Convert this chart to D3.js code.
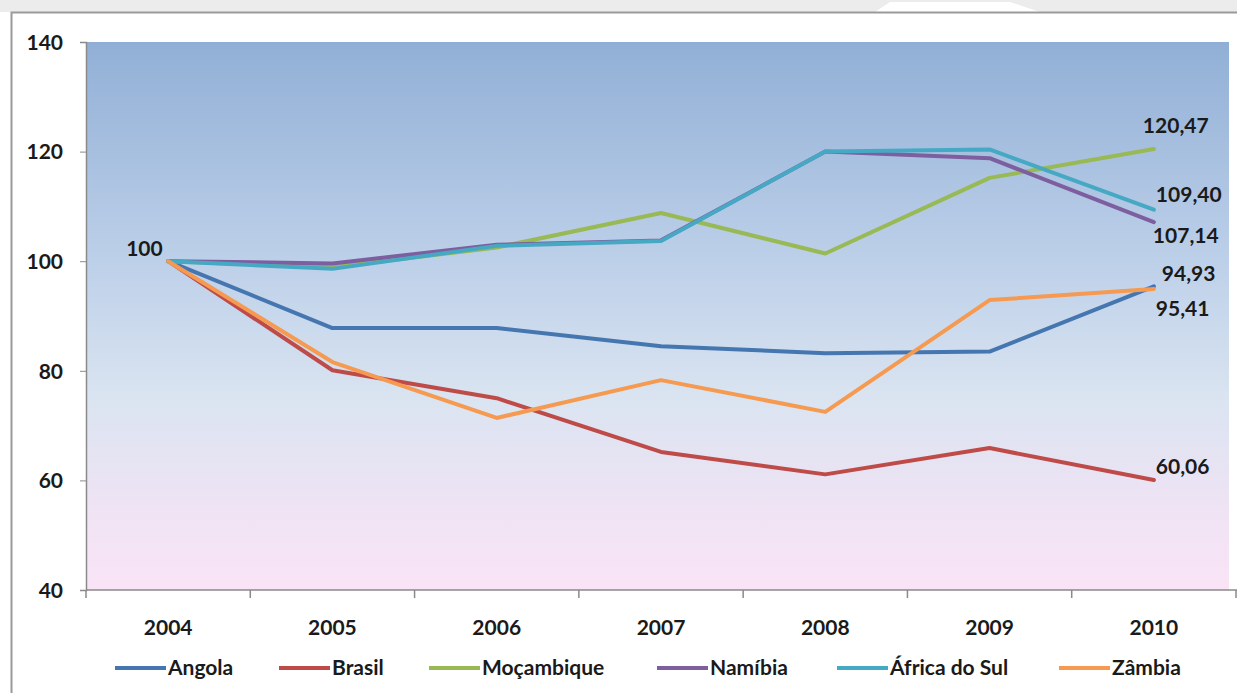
<!DOCTYPE html>
<html>
<head>
<meta charset="utf-8">
<script src="https://cdn.jsdelivr.net/npm/d3@7/dist/d3.min.js"></script>
<style>
  html, body { margin: 0; padding: 0; background: #ffffff; overflow: hidden; }
  svg { display: block; }
  text { font-family: Lato, "Open Sans", sans-serif; font-weight: bold; fill: #1a1a1a; }
</style>
</head>
<body>
<svg id="chart" width="1237" height="693"></svg>
<script>
const years = ["2004", "2005", "2006", "2007", "2008", "2009", "2010"];
const yTicks = [40, 60, 80, 100, 120, 140];

const seriesNames = ["Angola", "Brasil", "Moçambique", "Namíbia", "África do Sul", "Zâmbia"];
const seriesColors = ["#4576b0", "#be4b48", "#98b954", "#7d5fa0", "#46a9c4", "#f59a50"];

const angola      = [100, 87.8, 87.8, 84.5, 83.2, 83.5, 95.41];
const brasil      = [100, 80.1, 75.0, 65.2, 61.1, 65.9, 60.06];
const mocambique  = [100, 98.9, 102.5, 108.8, 101.4, 115.2, 120.47];
const namibia     = [100, 99.6, 103.0, 103.8, 120.0, 118.8, 107.14];
const africaDoSul = [100, 98.6, 102.8, 103.7, 120.0, 120.4, 109.40];
const zambia      = [100, 81.6, 71.4, 78.3, 72.5, 92.9, 94.93];

const seriesValues = [angola, brasil, mocambique, namibia, africaDoSul, zambia];

// point labels: [series index, year index, text]
const labelSeries = [0, 1, 2, 3, 4, 5, 0];
const labelYear   = [6, 6, 6, 6, 6, 6, 0];
const labelText   = ["95,41", "60,06", "120,47", "107,14", "109,40", "94,93", "100"];
// label offsets (dx, dy) relative to the point
const labelDx = [2, 2, -11, -1, 2, 8, -42];
const labelDy = [22, -13, -23, 14, -15, -15, -13];

const svg = d3.select("#chart");
const FS = "21px";

// outer frame
svg.append("rect").attr("x", 0).attr("y", 0).attr("width", 1237).attr("height", 12).attr("fill", "#ececec");
svg.append("path").attr("d", "M875,12 L890,2 L1010,2 L1040,12 Z").attr("fill", "#ffffff");
svg.append("rect").attr("x", 11.5).attr("y", 12.5).attr("width", 1240).attr("height", 700)
  .attr("fill", "#ffffff").attr("stroke", "#9a9a9a").attr("stroke-width", 2);

const plot = { left: 86, top: 42, right: 1236, bottom: 590 };

const x = d3.scaleBand().domain(years).range([plot.left, plot.right]).padding(0);
const y = d3.scaleLinear().domain([40, 140]).range([plot.bottom, plot.top]);

// gradient background
const defs = svg.append("defs");
const grad = defs.append("linearGradient").attr("id", "bg").attr("x1", 0).attr("y1", 0).attr("x2", 0).attr("y2", 1);
grad.append("stop").attr("offset", "0%").attr("stop-color", "#91afd6");
grad.append("stop").attr("offset", "40%").attr("stop-color", "#bdd0e9");
grad.append("stop").attr("offset", "65%").attr("stop-color", "#dae4f1");
grad.append("stop").attr("offset", "85%").attr("stop-color", "#efe3f4");
grad.append("stop").attr("offset", "100%").attr("stop-color", "#f9e4f6");

svg.append("rect")
  .attr("x", plot.left).attr("y", plot.top)
  .attr("width", 1229 - plot.left).attr("height", plot.bottom - plot.top)
  .attr("fill", "url(#bg)");

// axes
const yAxis = d3.axisLeft(y).tickValues(yTicks).tickSize(6).tickPadding(17);
const gy = svg.append("g").attr("transform", `translate(${plot.left},0)`).call(yAxis);
gy.select(".domain").attr("stroke", "#8a8a8a").attr("stroke-width", 1.5);
gy.selectAll(".tick line").attr("stroke", "#8a8a8a");
gy.selectAll(".tick text").style("font-size", FS).attr("fill", "#1a1a1a").attr("dy", "0.35em");

const xAxis = d3.axisBottom(x).tickSize(0).tickPadding(30);
const gx = svg.append("g").attr("transform", `translate(0,${plot.bottom})`).call(xAxis);
gx.select(".domain").remove();
gx.selectAll(".tick text").style("font-size", FS).attr("fill", "#1a1a1a");
svg.append("line").attr("x1", plot.left).attr("x2", 1237).attr("y1", plot.bottom).attr("y2", plot.bottom)
  .attr("stroke", "#8a8a8a").attr("stroke-width", 1.5);
// band boundary ticks
svg.selectAll(".bt").data(years.concat(["end"])).enter().append("line")
  .attr("x1", (d, i) => plot.left + i * x.bandwidth())
  .attr("x2", (d, i) => plot.left + i * x.bandwidth())
  .attr("y1", plot.bottom).attr("y2", plot.bottom + 8)
  .attr("stroke", "#8a8a8a").attr("stroke-width", 1.5);

// lines
const line = d3.line()
  .x((d, i) => x(years[i]) + x.bandwidth() / 2)
  .y(d => y(d));

const drawOrder = [0, 1, 2, 3, 4, 5];
svg.append("g").selectAll("path.series").data(drawOrder).enter().append("path")
  .attr("class", "series")
  .attr("d", k => line(seriesValues[k]))
  .attr("fill", "none")
  .attr("stroke", k => seriesColors[k])
  .attr("stroke-width", 4)
  .attr("stroke-linejoin", "round")
  .attr("stroke-linecap", "round");

// labels
svg.append("g").selectAll("text.lbl").data(labelText).enter().append("text")
  .attr("class", "lbl")
  .attr("x", (t, i) => x(years[labelYear[i]]) + x.bandwidth() / 2 + labelDx[i])
  .attr("y", (t, i) => y(seriesValues[labelSeries[i]][labelYear[i]]) + labelDy[i])
  .attr("dy", "0.35em")
  .style("font-size", FS)
  .text(t => t);

// legend
const legendX = [115, 279, 429, 657, 837, 1059];
const lg = svg.append("g").attr("transform", "translate(0,668)");
seriesNames.forEach((n, i) => {
  lg.append("line").attr("x1", legendX[i]).attr("x2", legendX[i] + 51).attr("y1", 0).attr("y2", 0)
    .attr("stroke", seriesColors[i]).attr("stroke-width", 4);
  lg.append("text").attr("x", legendX[i] + 53).attr("y", 0).attr("dy", "0.35em")
    .style("font-size", FS).text(n);
});
</script>
</body>
</html>
